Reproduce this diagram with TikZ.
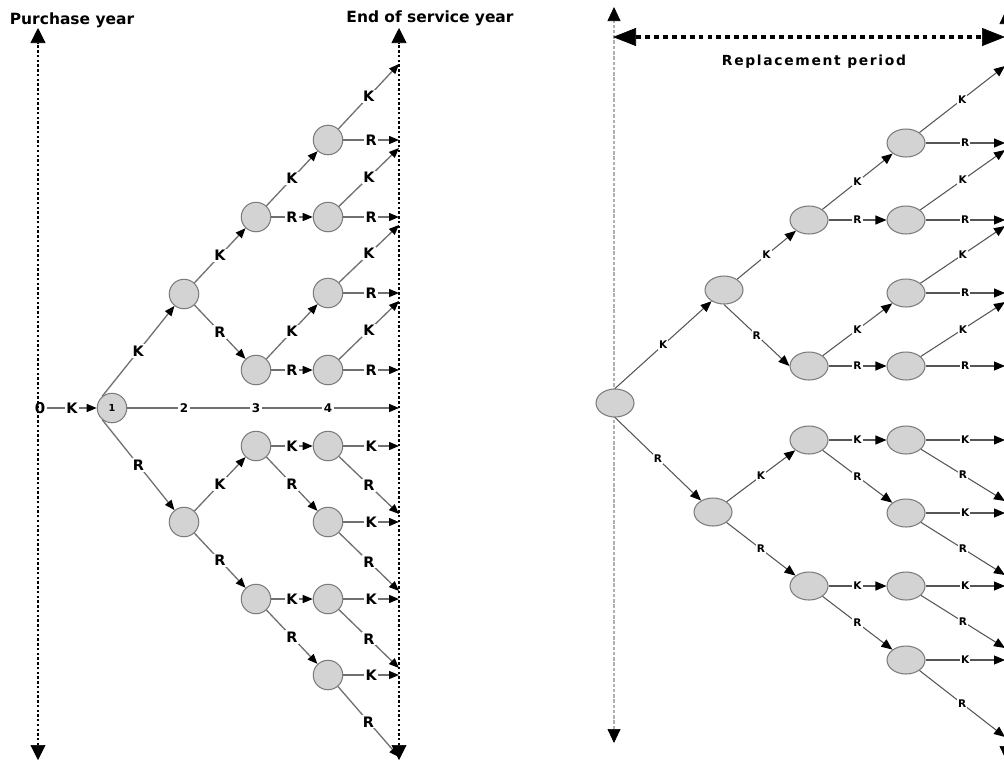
\documentclass[tikz,border=0pt]{standalone}
\usepackage{fontspec}
\setmainfont{DejaVu Sans}
\newfontfamily\spacedfont[LetterSpace=12]{DejaVu Sans}
\usetikzlibrary{arrows.meta,shapes.geometric}

\definecolor{nodefill}{HTML}{D3D3D3}
\definecolor{nodeline}{HTML}{7C7C7C}
\definecolor{linkgray}{HTML}{707070}
\definecolor{linkdark}{HTML}{555555}
\definecolor{axisgray}{HTML}{B0B0B0}

\tikzset{
  yearnode/.style={circle, draw=nodeline, fill=nodefill, minimum size=0.59cm, inner sep=0pt, line width=0.6pt},
  statenode/.style={ellipse, draw=nodeline, fill=nodefill, minimum width=0.76cm, minimum height=0.56cm, inner sep=0pt, line width=0.6pt},
  link/.style={draw=linkgray, line width=0.75pt, -{Triangle[length=0.2cm,width=0.16cm,color=black]}},
  rlink/.style={draw=linkdark, line width=0.6pt, -{Triangle[length=0.22cm,width=0.18cm,color=black]}},
  lab/.style={font=\bfseries\fontsize{8.2}{8.2}\selectfont, fill=white, inner sep=0.8pt},
  rlab/.style={font=\bfseries\fontsize{6}{6}\selectfont, fill=white, inner sep=0.6pt},
  yearlab/.style={font=\bfseries\fontsize{6.8}{6.8}\selectfont, fill=white, inner sep=0.8pt},
  heading/.style={font=\bfseries\fontsize{8.8}{10}\selectfont, inner sep=0pt},
  timeaxis/.style={line width=1.6pt, dash pattern=on 1.4pt off 1.3pt,
    {Triangle[length=0.3cm,width=0.3cm,line width=0.4pt]}-{Triangle[length=0.3cm,width=0.3cm,line width=0.4pt]}},
  periodaxis/.style={draw=axisgray, line width=0.6pt, dash pattern=on 2pt off 1pt,
    {Triangle[length=0.28cm,width=0.26cm,line width=0.4pt,color=black]}-{Triangle[length=0.28cm,width=0.26cm,line width=0.4pt,color=black]}},
  spanline/.style={line width=2.1pt, dash pattern=on 2.8pt off 2.3pt,
    {Triangle[length=0.46cm,width=0.36cm,line width=0.4pt]}-{Triangle[length=0.46cm,width=0.36cm,line width=0.4pt]}}
}

\begin{document}
\begin{tikzpicture}[x=0.02cm,y=-0.02cm]
\useasboundingbox (0,0) rectangle (1004,762);
\clip (0,0) rectangle (1004,762);

%% ---------- left panel: year-by-year decision tree ----------
\coordinate (pTop) at (38,28);
\coordinate (pBot) at (38,760);
\coordinate (eTop) at (399,28);
\coordinate (eBot) at (399,760);
\draw[timeaxis] (pBot) -- (pTop);
\draw[timeaxis] (eBot) -- (eTop);
\node[heading] (ptitle) at (72,20) {Purchase year};
\node[heading] (etitle) at (430,18) {End of service year};

\node[yearnode] (n1) at (112,408) {\bfseries\fontsize{5.5}{5.5}\selectfont 1};
\node[font=\bfseries\fontsize{8.5}{8.5}\selectfont, inner sep=1pt] (n0) at (40,408) {0};
\draw[link] (n0) -- node[lab]{K} (n1);

% straight line through the years
\coordinate (hEnd) at (399,408);
\draw[link] (n1) -- (hEnd);
\node[yearlab] (t2) at (184,408) {2};
\node[yearlab] (t3) at (256,408) {3};
\node[yearlab] (t4) at (328,408) {4};

% year 2
\node[yearnode] (a) at (184,294) {};
\node[yearnode] (b) at (184,522) {};
% year 3
\node[yearnode] (aa) at (256,217) {};
\node[yearnode] (ab) at (256,370) {};
\node[yearnode] (ba) at (256,446) {};
\node[yearnode] (bb) at (256,599) {};
% year 4
\node[yearnode] (aaa) at (328,140) {};
\node[yearnode] (aab) at (328,217) {};
\node[yearnode] (aba) at (328,293) {};
\node[yearnode] (abb) at (328,370) {};
\node[yearnode] (baa) at (328,446) {};
\node[yearnode] (bab) at (328,522) {};
\node[yearnode] (bba) at (328,599) {};
\node[yearnode] (bbb) at (328,675) {};

\draw[link] (n1.130) -- node[lab]{K} (a);
\draw[link] (n1.230) -- node[lab]{R} (b);
\draw[link] (a) -- node[lab]{K} (aa);
\draw[link] (a) -- node[lab]{R} (ab);
\draw[link] (b) -- node[lab]{K} (ba);
\draw[link] (b) -- node[lab]{R} (bb);
\draw[link] (aa) -- node[lab]{K} (aaa);
\draw[link] (aa) -- node[lab]{R} (aab);
\draw[link] (ab) -- node[lab]{K} (aba);
\draw[link] (ab) -- node[lab]{R} (abb);
\draw[link] (ba) -- node[lab]{K} (baa);
\draw[link] (ba) -- node[lab]{R} (bab);
\draw[link] (bb) -- node[lab]{K} (bba);
\draw[link] (bb) -- node[lab]{R} (bbb);

% last year: arrows onto the end-of-service line
\coordinate (aaaK) at (399,64);  \coordinate (aaaR) at (399,140);
\coordinate (aabK) at (399,148); \coordinate (aabR) at (399,217);
\coordinate (abaK) at (399,225); \coordinate (abaR) at (399,293);
\coordinate (abbK) at (399,301); \coordinate (abbR) at (399,370);
\coordinate (baaK) at (399,446); \coordinate (baaR) at (399,514);
\coordinate (babK) at (399,522); \coordinate (babR) at (399,591);
\coordinate (bbaK) at (399,599); \coordinate (bbaR) at (399,668);
\coordinate (bbbK) at (399,675); \coordinate (bbbR) at (399,757);
\foreach \s in {aaa,aab,aba,abb,baa,bab,bba,bbb}{
  \draw[link] (\s) -- node[lab]{K} (\s K);
  \draw[link] (\s) -- node[lab]{R} (\s R);
}

%% ---------- right panel: replacement period tree ----------
\coordinate (qTop) at (614,7);
\coordinate (qBot) at (614,743);
\coordinate (sTop) at (1006,10);
\coordinate (sBot) at (1006,760);
\draw[periodaxis] (qBot) -- (qTop);
\draw[periodaxis] (sBot) -- (sTop);
\coordinate (spanL) at (613,37);
\coordinate (spanR) at (1005,37);
\draw[spanline] (spanL) -- (spanR);
\node[font=\spacedfont\bfseries\fontsize{7.9}{9}\selectfont] (rtitle) at (814,62) {Replacement period};

\node[statenode] (r0) at (615,403) {};
\node[statenode] (ru) at (724,290) {};
\node[statenode] (rl) at (713,512) {};
\node[statenode] (ruu) at (809,220) {};
\node[statenode] (rul) at (809,366) {};
\node[statenode] (rlu) at (809,440) {};
\node[statenode] (rll) at (809,586) {};
\node[statenode] (qa) at (906,143) {};
\node[statenode] (qb) at (906,220) {};
\node[statenode] (qc) at (906,293) {};
\node[statenode] (qd) at (906,366) {};
\node[statenode] (qe) at (906,440) {};
\node[statenode] (qf) at (906,513) {};
\node[statenode] (qg) at (906,586) {};
\node[statenode] (qh) at (906,660) {};

\draw[rlink] (r0.north) -- node[rlab]{K} (ru);
\draw[rlink] (r0.south) -- node[rlab]{R} (rl);
\draw[rlink] (ru) -- node[rlab]{K} (ruu);
\draw[rlink] (ru.south) -- node[rlab]{R} (rul.west);
\draw[rlink] (rl) -- node[rlab]{K} (rlu);
\draw[rlink] (rl) -- node[rlab]{R} (rll);
\draw[rlink] (ruu) -- node[rlab]{K} (qa);
\draw[rlink] (ruu) -- node[rlab]{R} (qb);
\draw[rlink] (rul) -- node[rlab]{K} (qc);
\draw[rlink] (rul) -- node[rlab]{R} (qd);
\draw[rlink] (rlu) -- node[rlab]{K} (qe);
\draw[rlink] (rlu) -- node[rlab]{R} (qf);
\draw[rlink] (rll) -- node[rlab]{K} (qg);
\draw[rlink] (rll) -- node[rlab]{R} (qh);

\coordinate (qaK) at (1005,66);  \coordinate (qaR) at (1005,143);
\coordinate (qbK) at (1005,150); \coordinate (qbR) at (1005,220);
\coordinate (qcK) at (1005,226); \coordinate (qcR) at (1005,293);
\coordinate (qdK) at (1005,302); \coordinate (qdR) at (1005,366);
\coordinate (qeK) at (1005,440); \coordinate (qeR) at (1005,501);
\coordinate (qfK) at (1005,513); \coordinate (qfR) at (1005,575);
\coordinate (qgK) at (1005,586); \coordinate (qgR) at (1005,648);
\coordinate (qhK) at (1005,660); \coordinate (qhR) at (1005,737);
\foreach \s in {qa,qb,qc,qd,qe,qf,qg,qh}{
  \draw[rlink] (\s) -- node[rlab]{K} (\s K);
  \draw[rlink] (\s) -- node[rlab]{R} (\s R);
}
\end{tikzpicture}
\end{document}
